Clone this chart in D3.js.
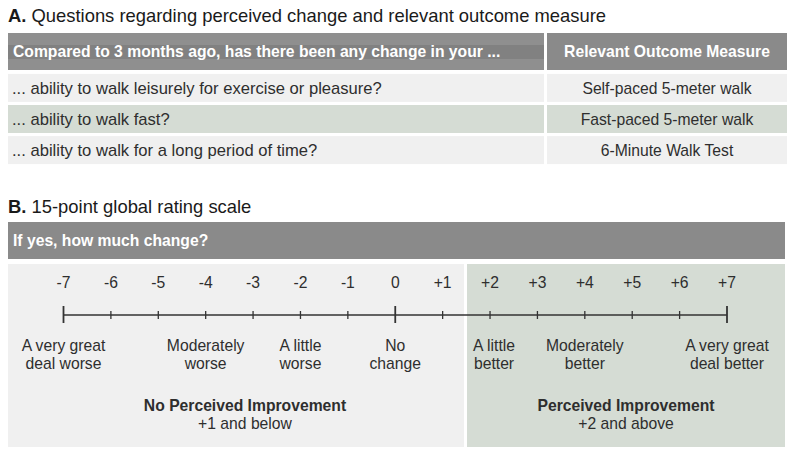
<!DOCTYPE html>
<html>
<head>
<meta charset="utf-8">
<script src="https://cdn.jsdelivr.net/npm/d3@7"></script>
<style>
  body { margin: 0; background: #fff; }
  svg { display: block; font-family: "Liberation Sans", Arial, sans-serif; }
</style>
</head>
<body>
<div id="chart"></div>
<script>
// Panel A: questions and outcome measures
const questionHeader = "Compared to 3 months ago, has there been any change in your ...";
const measureHeader = "Relevant Outcome Measure";
const questions = [
    "... ability to walk leisurely for exercise or pleasure?",
    "... ability to walk fast?",
    "... ability to walk for a long period of time?"
];
const measures = [
    "Self-paced 5-meter walk",
    "Fast-paced 5-meter walk",
    "6-Minute Walk Test"
];

// Panel B: 15-point global rating scale
const scaleValues = [-7, -6, -5, -4, -3, -2, -1, 0, 1, 2, 3, 4, 5, 6, 7];
const tickLabels = ["-7", "-6", "-5", "-4", "-3", "-2", "-1", "0", "+1", "+2", "+3", "+4", "+5", "+6", "+7"];
const majorTicks = [-7, 0, 7];
const anchorValues = [-7, -4, -2, 0, 2, 4, 7];
const anchorLabels = [
    ["A very great", "deal worse"],
    ["Moderately", "worse"],
    ["A little", "worse"],
    ["No", "change"],
    ["A little", "better"],
    ["Moderately", "better"],
    ["A very great", "deal better"]
];
const groups = [
    { name: "No Perceived Improvement", rule: "+1 and below" },
    { name: "Perceived Improvement", rule: "+2 and above" }
];

const width = 795;
const height = 454;
const textColor = "#2e2e2e";
const headerColor = "#8a8a8a";
const lightFill = "#f0f0f0";
const greenFill = "#d5dcd4";
const fs = 15.7;

const svg = d3.select("#chart").append("svg")
    .attr("width", width)
    .attr("height", height);

// ---------- Panel A ----------
const titleA = svg.append("text")
    .attr("x", 8)
    .attr("y", 22)
    .attr("font-size", 18.4)
    .attr("fill", "#1a1a1a");
titleA.append("tspan").attr("font-weight", "bold").text("A.");
titleA.append("tspan").text(" Questions regarding perceived change and relevant outcome measure");

const colLeft = [8, 544];
const colRight = [547, 787];

// header row
svg.append("rect")
    .attr("x", colLeft[0]).attr("y", 33)
    .attr("width", colLeft[1] - colLeft[0]).attr("height", 37)
    .attr("fill", "#8f8f8f");
svg.append("rect")
    .attr("x", colLeft[0]).attr("y", 45)
    .attr("width", colLeft[1] - colLeft[0]).attr("height", 14)
    .attr("fill", "#818181");
svg.append("rect")
    .attr("x", colRight[0]).attr("y", 33)
    .attr("width", colRight[1] - colRight[0]).attr("height", 37)
    .attr("fill", headerColor);

svg.append("text")
    .attr("x", 13).attr("y", 57)
    .attr("font-size", fs).attr("font-weight", "bold")
    .attr("fill", "#fff")
    .text(questionHeader);
svg.append("text")
    .attr("x", (colRight[0] + colRight[1]) / 2).attr("y", 57)
    .attr("text-anchor", "middle")
    .attr("font-size", fs).attr("font-weight", "bold")
    .attr("fill", "#fff")
    .text(measureHeader);

const rowY = d3.scaleBand()
    .domain(d3.range(questions.length))
    .range([73, 165])
    .paddingInner(0.1)
    .paddingOuter(0.03);

const rows = svg.selectAll(".row")
    .data(questions.map((q, i) => ({ q, m: measures[i], i })))
    .join("g")
    .attr("class", "row")
    .attr("transform", d => `translate(0,${rowY(d.i)})`);

rows.append("rect")
    .attr("x", colLeft[0]).attr("width", colLeft[1] - colLeft[0])
    .attr("height", rowY.bandwidth())
    .attr("fill", d => d.i % 2 === 1 ? greenFill : lightFill);
rows.append("rect")
    .attr("x", colRight[0]).attr("width", colRight[1] - colRight[0])
    .attr("height", rowY.bandwidth())
    .attr("fill", d => d.i % 2 === 1 ? greenFill : lightFill);
rows.append("text")
    .attr("x", 12).attr("y", rowY.bandwidth() / 2 + 6)
    .attr("font-size", 16.6).attr("fill", textColor)
    .text(d => d.q);
rows.append("text")
    .attr("x", (colRight[0] + colRight[1]) / 2).attr("y", rowY.bandwidth() / 2 + 6)
    .attr("text-anchor", "middle")
    .attr("font-size", fs).attr("fill", textColor)
    .text(d => d.m);

// ---------- Panel B ----------
const titleB = svg.append("text")
    .attr("x", 8)
    .attr("y", 213)
    .attr("font-size", 18.4)
    .attr("fill", "#1a1a1a");
titleB.append("tspan").attr("font-weight", "bold").text("B.");
titleB.append("tspan").text(" 15-point global rating scale");

svg.append("rect")
    .attr("x", 8).attr("y", 222)
    .attr("width", 777).attr("height", 37)
    .attr("fill", headerColor);
svg.append("text")
    .attr("x", 13).attr("y", 246)
    .attr("font-size", fs).attr("font-weight", "bold")
    .attr("fill", "#fff")
    .text("If yes, how much change?");

const x = d3.scaleLinear()
    .domain([-7, 7])
    .range([63.5, 727]);

// group panels
const panels = [
    { x0: 8, x1: 464, fill: lightFill },
    { x0: 467, x1: 785, fill: greenFill }
];
svg.selectAll(".panel")
    .data(panels)
    .join("rect")
    .attr("class", "panel")
    .attr("x", d => d.x0).attr("y", 264)
    .attr("width", d => d.x1 - d.x0).attr("height", 183)
    .attr("fill", d => d.fill);

const axisY = 315;

// tick labels
svg.selectAll(".tick-label")
    .data(scaleValues)
    .join("text")
    .attr("class", "tick-label")
    .attr("x", d => x(d))
    .attr("y", 288)
    .attr("text-anchor", "middle")
    .attr("font-size", fs).attr("fill", textColor)
    .text((d, i) => tickLabels[i]);

// axis line and ticks
svg.append("line")
    .attr("x1", x(-7)).attr("x2", x(7))
    .attr("y1", axisY).attr("y2", axisY)
    .attr("stroke", "#333").attr("stroke-width", 1.5);

svg.selectAll(".tick-mark")
    .data(scaleValues)
    .join("line")
    .attr("class", "tick-mark")
    .attr("x1", d => x(d)).attr("x2", d => x(d))
    .attr("y1", d => majorTicks.includes(d) ? axisY - 9 : axisY - 4)
    .attr("y2", d => majorTicks.includes(d) ? axisY + 8 : axisY + 4)
    .attr("stroke", "#333")
    .attr("stroke-width", d => majorTicks.includes(d) ? 1.8 : 1.3);

// anchor labels
const anchors = svg.selectAll(".anchor")
    .data(anchorValues.map((v, i) => ({ v, lines: anchorLabels[i] })))
    .join("text")
    .attr("class", "anchor")
    .attr("text-anchor", "middle")
    .attr("font-size", fs).attr("fill", textColor);
anchors.selectAll("tspan")
    .data(d => d.lines.map(l => ({ l, v: d.v })))
    .join("tspan")
    .attr("x", d => x(d.v) + (d.v === 2 ? 4 : 0))
    .attr("y", (d, i) => 351 + i * 18)
    .text(d => d.l);

// group labels
const groupCenters = [245, 626];
const groupText = svg.selectAll(".group")
    .data(groups)
    .join("text")
    .attr("class", "group")
    .attr("text-anchor", "middle")
    .attr("font-size", fs).attr("fill", textColor);
groupText.append("tspan")
    .attr("x", (d, i) => groupCenters[i]).attr("y", 411)
    .attr("font-weight", "bold")
    .text(d => d.name);
groupText.append("tspan")
    .attr("x", (d, i) => groupCenters[i]).attr("y", 429)
    .text(d => d.rule);
</script>
</body>
</html>
